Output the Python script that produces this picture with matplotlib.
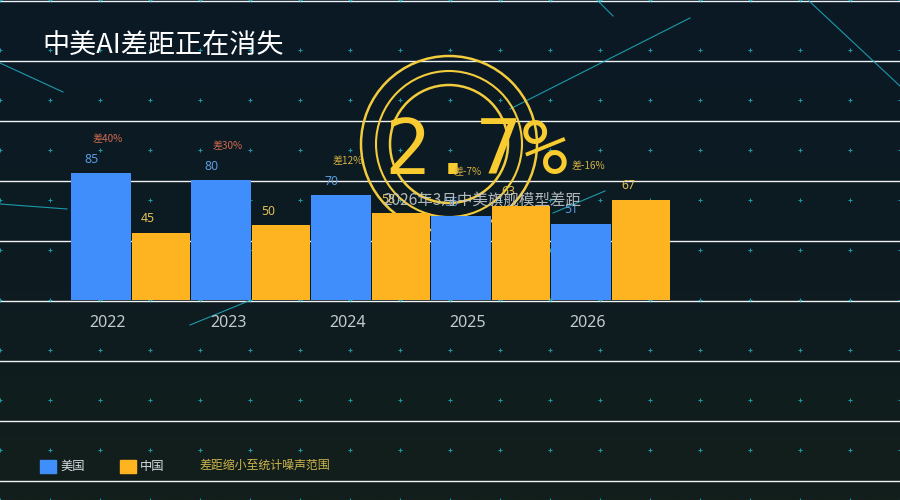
import numpy as np
import matplotlib
matplotlib.use("Agg")
import matplotlib.pyplot as plt
from matplotlib.colors import LinearSegmentedColormap
from matplotlib.patches import Circle, Rectangle
from matplotlib.transforms import offset_copy

plt.rcParams['font.family'] = ['Noto Sans CJK SC', 'DejaVu Sans']

# ---- data ----
years = ['2022', '2023', '2024', '2025', '2026']
us_scores = [85, 80, 70, 56, 51]
cn_scores = [45, 50, 58, 63, 67]
gap_labels = ['差40%', '差30%', '差12%', '差-7%', '差-16%']
series_names = ['美国', '中国']
title_text = '中美AI差距正在消失'
big_number = '2.7%'
subtitle_text = '2026年3月中美旗舰模型差距'
note_text = '差距缩小至统计噪声范围'

# ---- styles ----
US_COLOR = '#3f8efc'
CN_COLOR = '#fdb420'
US_LBL = '#5b9be0'
CN_LBL = '#e3c055'
GAP_RED = '#d36a50'
GAP_GOLD = '#d4b040'
RING = '#f2cc3c'
CYAN = '#1fb0c2'

W, H = 900, 500
fig = plt.figure(figsize=(9, 5), dpi=100)

# background axes in pixel coordinates
bg = fig.add_axes([0, 0, 1, 1], zorder=0)
bg.set_xlim(0, W)
bg.set_ylim(H, 0)
bg.axis('off')
cmap = LinearSegmentedColormap.from_list('bgc', ['#0b1925', '#0d1b22', '#131f1b'])
grad = np.linspace(0, 1, 256).reshape(-1, 1)
bg.imshow(grad, cmap=cmap, extent=[0, W, H, 0], aspect='auto', zorder=0)

# horizontal white lines
for yy in range(0, H, 60):
    bg.plot([0, W], [yy + 0.5, yy + 0.5], color='white', lw=1.0, alpha=0.95, zorder=1)

# dot grid
gx, gy = np.meshgrid(np.arange(0, W + 1, 50), np.arange(0, H + 1, 50))
bg.plot(gx.ravel(), gy.ravel(), linestyle='none', marker='+', ms=2.6, mew=0.75,
        color=CYAN, alpha=0.85, zorder=2)

# decorative streaks
streaks = [((0, 63), (63, 92)), ((0, 204), (67, 209)), ((190, 325), (251, 300)),
           ((510, 109), (690, 18)), ((597, 0), (613, 16)), ((808, 0), (900, 86)),
           ((553, 213), (605, 191))]
for (x0, y0), (x1, y1) in streaks:
    bg.plot([x0, x1], [y0, y1], color=CYAN, lw=0.8, alpha=0.85, zorder=2)

# rings
for r, lw in [(88, 1.8), (73, 1.5), (59, 1.8)]:
    bg.add_patch(Circle((449, 144), r, fill=False, ec=RING, lw=lw, zorder=3))

# big number (behind the bar-layer labels)
bg.text(476, 174, big_number, color='#f8cb30', fontsize=55,
        family=['DejaVu Sans Mono'], ha='center', va='baseline', zorder=4)

# legend
bg.add_patch(Rectangle((40, 460), 16, 13, color=US_COLOR, zorder=3))
bg.text(60, 466.5, series_names[0], color='#d8dde2', fontsize=8.8, va='center', ha='left')
bg.add_patch(Rectangle((120, 460), 16, 13, color=CN_COLOR, zorder=3))
bg.text(140, 466.5, series_names[1], color='#d8dde2', fontsize=8.8, va='center', ha='left')
bg.text(200, 465.5, note_text, color='#cdb64c', fontsize=8.6, va='center', ha='left')

# title
bg.text(42, 45, title_text, color='white', fontsize=19.5, va='center', ha='left')

# ---- bar axes ----
px_per_unit = 1.494
ax_h = 100 * px_per_unit
ax = fig.add_axes([0, (H - 300) / H, 1, ax_h / H], zorder=1)
ax.set_facecolor('none')
ax.set_xlim(-108 / 120, (W - 108) / 120)
ax.set_ylim(0, 100)
for s in ax.spines.values():
    s.set_visible(False)
ax.set_yticks([])
x = np.arange(len(years))
us_x = x - 7.5 / 120
cn_x = x + 53 / 120
ax.bar(us_x, us_scores, width=60 / 120, color=US_COLOR, zorder=3)
ax.bar(cn_x, cn_scores, width=58 / 120, color=CN_COLOR, zorder=3)
ax.set_xticks(x)
ax.set_xticklabels(years, fontsize=11.5, color='#c3cad0', family=['Noto Sans', 'DejaVu Sans'])
ax.tick_params(axis='x', length=0, pad=11)

for i in range(len(years)):
    t_us = offset_copy(ax.transData, fig=fig, x=-9, y=14, units='dots')
    ax.text(us_x[i], us_scores[i], str(us_scores[i]), transform=t_us, color=US_LBL,
            fontsize=8.8, ha='center', va='center', family=['Noto Sans', 'DejaVu Sans'], zorder=4)
    t_cn = offset_copy(ax.transData, fig=fig, x=-13, y=14, units='dots')
    ax.text(cn_x[i], cn_scores[i], str(cn_scores[i]), transform=t_cn, color=CN_LBL,
            fontsize=8.8, ha='center', va='center', family=['Noto Sans', 'DejaVu Sans'], zorder=4)
    t_gap = offset_copy(ax.transData, fig=fig, x=0, y=34, units='dots')
    gcol = GAP_RED if us_scores[i] - cn_scores[i] >= 20 else GAP_GOLD
    ax.text(x[i], max(us_scores[i], cn_scores[i]), gap_labels[i], transform=t_gap,
            color=gcol, fontsize=7.2, ha='center', va='center', zorder=4)

# subtitle on top of everything
fig.text(482 / W, 1 - 200 / H, subtitle_text, color='#c4c8cc', alpha=0.9, fontsize=11.2,
         ha='center', va='center', zorder=6)

fig.savefig('out.png', dpi=100)
